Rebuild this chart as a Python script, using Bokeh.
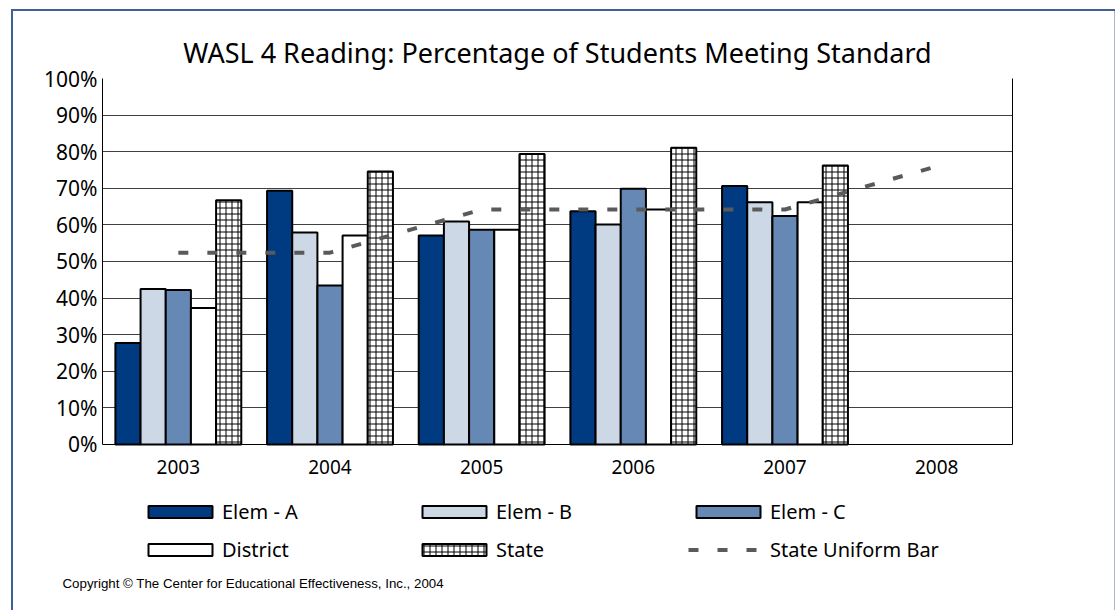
import math
from bokeh.plotting import figure
from bokeh.models import (Range1d, FixedTicker, PrintfTickFormatter, Legend, LinearAxis,
                          LegendItem, ColumnDataSource, FactorRange, Title)
from bokeh.transform import dodge
from bokeh.embed import file_html
from bokeh.resources import INLINE

nan = float("nan")

# ---- data ----
years = ["2003", "2004", "2005", "2006", "2007", "2008"]
elem_a = [27.7, 69.3, 57.1, 63.7, 70.6, nan]
elem_b = [42.5, 57.9, 60.9, 60.1, 66.2, nan]
elem_c = [42.2, 43.4, 58.7, 69.9, 62.4, nan]
district = [37.3, 57.1, 58.7, 64.2, 66.2, nan]
state = [66.7, 74.6, 79.4, 81.1, 76.2, nan]
state_uniform_bar = [52.4, 52.4, 64.2, 64.2, 64.2, 76.0]
y_ticks = [0, 10, 20, 30, 40, 50, 60, 70, 80, 90, 100]

title_text = "WASL 4 Reading: Percentage of Students Meeting Standard"
copyright_text = "Copyright \u00a9 The Center for Educational Effectiveness, Inc., 2004"
series_labels = ["Elem - A", "Elem - B", "Elem - C", "District", "State", "State Uniform Bar"]

FONT = "Noto Sans"

src = ColumnDataSource(dict(years=years, elem_a=elem_a, elem_b=elem_b, elem_c=elem_c,
                            district=district, state=state, sub=state_uniform_bar))

# frame extends below 0% to hold the legend; axes are bounded to 0..100
p = figure(x_range=FactorRange(*years), y_range=Range1d(-35, 100),
           width=1116, height=610, output_backend="svg", toolbar_location=None,
           min_border_left=102, min_border_right=104, min_border_top=78, min_border_bottom=38)

p.border_fill_alpha = 0
p.background_fill_color = "white"
p.styles = {
    "background": ("linear-gradient(#3E5F98,#3E5F98) 11px 9px / 1104px 2px no-repeat, "
                   "linear-gradient(#3E5F98,#3E5F98) 11px 9px / 2px 601px no-repeat, "
                   "linear-gradient(#A9B6CC,#A9B6CC) 1114px 9px / 1px 601px no-repeat, white"),
}
p.outline_line_color = None

BW = 0.166
common = dict(width=BW, source=src, line_color="black", line_width=2)
r_a = p.vbar(x=dodge("years", -2 * BW, range=p.x_range), top="elem_a", fill_color="#003A80", **common)
r_b = p.vbar(x=dodge("years", -1 * BW, range=p.x_range), top="elem_b", fill_color="#CCD8E6", **common)
r_c = p.vbar(x=dodge("years", 0, range=p.x_range), top="elem_c", fill_color="#6688B4", **common)
r_d = p.vbar(x=dodge("years", 1 * BW, range=p.x_range), top="district", fill_color="white", **common)
r_s = p.vbar(x=dodge("years", 2 * BW, range=p.x_range), top="state", fill_color="white",
             hatch_pattern="+", hatch_scale=6, hatch_color="black", hatch_weight=1, **common)
r_l = p.line(x="years", y="sub", source=src, line_color="#5A5A5A", line_width=4,
             line_dash="10 19", line_cap="butt")

# grid
p.xgrid.grid_line_color = None
p.ygrid.ticker = FixedTicker(ticks=y_ticks)
p.ygrid.grid_line_color = "#404040"
p.ygrid.grid_line_width = 1

# left axis
p.yaxis.ticker = FixedTicker(ticks=y_ticks)
p.yaxis.bounds = (0, 100)
p.yaxis.formatter = PrintfTickFormatter(format="%d%%")
p.yaxis.major_tick_out = 0
p.yaxis.major_tick_in = 0
p.yaxis.minor_tick_out = 0
p.yaxis.minor_tick_in = 0
p.yaxis.major_label_standoff = 5
p.yaxis.major_label_text_font = FONT
p.yaxis.major_label_text_font_size = "21px"
p.yaxis.major_label_text_color = "black"
p.yaxis.axis_line_color = "black"

# right border of the plot area
right_axis = LinearAxis(ticker=FixedTicker(ticks=[]), bounds=(0, 100),
                        major_tick_out=0, major_tick_in=0, minor_tick_out=0, minor_tick_in=0,
                        axis_line_color="black")
p.add_layout(right_axis, "right")

# category axis at 0%
p.xaxis.fixed_location = 0
p.xaxis.major_tick_out = 0
p.xaxis.major_tick_in = 0
p.xaxis.major_label_standoff = 16
p.xaxis.major_label_text_font = FONT
p.xaxis.major_label_text_font_size = "19px"
p.xaxis.major_label_text_color = "black"
p.xaxis.axis_line_color = "black"

# title
p.title = Title(text=title_text, align="center", standoff=15,
                text_font=FONT, text_font_size="27px", text_font_style="normal",
                text_color="black")

# legend
legend = Legend(items=[LegendItem(label=series_labels[0], renderers=[r_a]),
                       LegendItem(label=series_labels[1], renderers=[r_b]),
                       LegendItem(label=series_labels[2], renderers=[r_c]),
                       LegendItem(label=series_labels[3], renderers=[r_d]),
                       LegendItem(label=series_labels[4], renderers=[r_s]),
                       LegendItem(label=series_labels[5], renderers=[r_l])],
                location=(38, 9), orientation="horizontal", ncols=3,
                glyph_width=80, glyph_height=15, label_standoff=2, spacing=11,
                label_width=181, label_height=24, padding=0, margin=0,
                border_line_color=None, background_fill_alpha=0,
                label_text_font=FONT, label_text_font_size="20px",
                label_text_color="black")
p.add_layout(legend)

# copyright
p.add_layout(Title(text=copyright_text, align="left", offset=-40, standoff=3,
                   text_font="Liberation Sans", text_font_size="13.3px",
                   text_font_style="normal", text_color="black"), "below")

open("out.html", "w").write(file_html(p, INLINE))
